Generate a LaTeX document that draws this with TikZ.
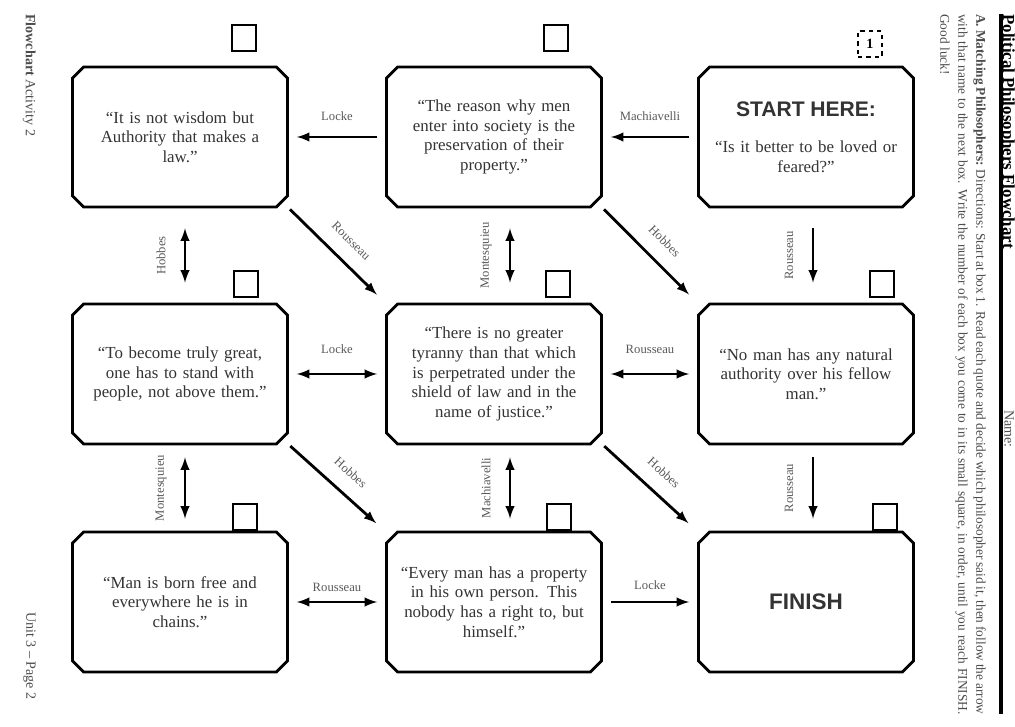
\documentclass[tikz,border=0pt]{standalone}
\usepackage{fontspec}
\setmainfont{Liberation Serif}
\setsansfont{Liberation Sans}
\usetikzlibrary{calc,shapes.misc}

\tikzset{
  box/.style={draw, line width=2pt, chamfered rectangle, chamfered rectangle sep=4pt,
    minimum width=5.375cm, minimum height=3.5cm, text width=5cm, align=center,
    inner sep=0pt, text=black!80, font=\fontsize{12}{14}\selectfont},
  numbox/.style={draw, line width=1.8pt, minimum width=0.6cm, minimum height=0.65cm, inner sep=0pt},
  conn/.style={line width=2pt, -latex, shorten <=0.2cm, shorten >=0.2cm},
  lbl/.style={font=\fontsize{9}{10}\selectfont, text=black!65, inner sep=2pt},
  side/.style={rotate=-90, anchor=north west, inner sep=0pt, text=black!70}
}

\begin{document}
\begin{tikzpicture}[x=0.025cm,y=-0.025cm]
\useasboundingbox (0,0) rectangle (1015,727);

\node[box] (wisdom) at (180,137) {“It is not wisdom but\\Authority that makes a\\law.”\\[6pt]};
\node[box] (property) at (494,137) {“The reason why men\\enter into society is the\\preservation of their\\property.”\\[6pt]};
\node[box] (start) at (806,137) {{\sffamily\bfseries\fontsize{15}{17}\selectfont START HERE:}\\[12pt]“Is it better to be loved or\\feared?”};
\node[box] (great) at (180,374) {“To become truly great,\\one has to stand with\\people, not above them.”};
\node[box] (tyranny) at (494,374) {“There is no greater\\tyranny than that which\\is perpetrated under the\\shield of law and in the\\name of justice.”};
\node[box] (natural) at (806,374) {“No man has any natural\\authority over his fellow\\man.”};
\node[box] (chains) at (180,602) {“Man is born free and\\everywhere he is in\\chains.”};
\node[box] (person) at (494,602) {“Every man has a property\\in his own person. This\\nobody has a right to, but\\himself.”};
\node[box] (finish) at (806,602) {\sffamily\bfseries\fontsize{16}{18}\selectfont FINISH};

\node[numbox] (nwisdom) at (244,38) {};
\node[numbox] (nproperty) at (556,38) {};
\node[numbox, dashed] (nstart) at (870,44) {\bfseries 1};
\node[numbox] (ngreat) at (246,284) {};
\node[numbox] (ntyranny) at (558,284) {};
\node[numbox] (nnatural) at (882,284) {};
\node[numbox] (nchains) at (245,517) {};
\node[numbox] (nperson) at (559,517) {};
\node[numbox] (nfinish) at (885,517) {};

\draw[conn] (property.west) -- (wisdom.east) node[lbl, midway, above=0.3cm] {Locke};
\draw[conn] (start.west) -- (property.east) node[lbl, midway, above=0.3cm] {Machiavelli};
\draw[conn, latex-latex] (great.east) -- (tyranny.west) node[lbl, midway, above=0.4cm] {Locke};
\draw[conn, latex-latex] (tyranny.east) -- (natural.west) node[lbl, midway, above=0.4cm] {Rousseau};
\draw[conn, latex-latex] (chains.east) -- (person.west) node[lbl, midway, above=0.15cm] {Rousseau};
\draw[conn] (person.east) -- (finish.west) node[lbl, midway, above=0.2cm] {Locke};

\draw[conn, latex-latex, shorten <=0.5cm, shorten >=0.5cm] ([xshift=0.125cm]wisdom.south) -- ([xshift=0.125cm]great.north)
  node[lbl, midway, xshift=-0.6cm, rotate=90] {Hobbes};
\draw[conn, latex-latex, shorten <=0.5cm, shorten >=0.5cm] ([xshift=0.4cm]property.south) -- ([xshift=0.4cm]tyranny.north)
  node[lbl, midway, xshift=-0.6cm, rotate=90] {Montesquieu};
\draw[conn, shorten <=0.5cm, shorten >=0.5cm] ([xshift=0.175cm]start.south) -- ([xshift=0.175cm]natural.north)
  node[lbl, midway, xshift=-0.6cm, rotate=90] {Rousseau};
\draw[conn, latex-latex, shorten <=0.3cm, shorten >=0.3cm] ([xshift=0.125cm]great.south) -- ([xshift=0.125cm]chains.north)
  node[lbl, midway, xshift=-0.6cm, rotate=90] {Montesquieu};
\draw[conn, latex-latex, shorten <=0.3cm, shorten >=0.3cm] ([xshift=0.4cm]tyranny.south) -- ([xshift=0.4cm]person.north)
  node[lbl, midway, xshift=-0.6cm, rotate=90] {Machiavelli};
\draw[conn, shorten <=0.3cm, shorten >=0.3cm] ([xshift=0.175cm]natural.south) -- ([xshift=0.175cm]finish.north)
  node[lbl, midway, xshift=-0.6cm, rotate=90] {Rousseau};

\draw[conn, shorten <=0.25cm, shorten >=0.5cm] (wisdom.south east) -- (tyranny.north west) node[lbl, midway, sloped, above=0.3cm] {Rousseau};
\draw[conn, shorten <=0.25cm, shorten >=0.5cm] (property.south east) -- (natural.north west) node[lbl, midway, sloped, above=0.3cm] {Hobbes};
\draw[conn, shorten <=0.25cm, shorten >=0.5cm] (great.south east) -- (person.north west) node[lbl, midway, sloped, above=0.3cm] {Hobbes};
\draw[conn, shorten <=0.25cm, shorten >=0.5cm] (tyranny.south east) -- (finish.north west) node[lbl, midway, sloped, above=0.3cm] {Hobbes};

\node[side, font=\fontsize{12}{13}\selectfont\bfseries, text=black] (title) at (1015,14) {Political Philosophers Flowchart};
\node[side, font=\fontsize{10}{11}\selectfont] (name) at (1014,410) {Name:};
\draw[line width=2.5pt] (1001,14) -- (1001,714);
\node[side, text width=17.5cm, align=justify, font=\fontsize{9.5}{12.8}\selectfont] (directions) at (986,14)
  {\textbf{A. Matching Philosophers:} Directions: Start at box 1. Read each quote and decide which philosopher said it, then follow the arrow with that name to the next box. Write the number of each box you come to in its small square, in order, until you reach FINISH. Good luck!};
\node[side, font=\fontsize{10}{11}\selectfont] (footer) at (36,14) {\textbf{Flowchart} Activity 2};
\node[side, font=\fontsize{10}{11}\selectfont] (page) at (36,612) {Unit 3 -- Page 2};
\end{tikzpicture}
\end{document}
